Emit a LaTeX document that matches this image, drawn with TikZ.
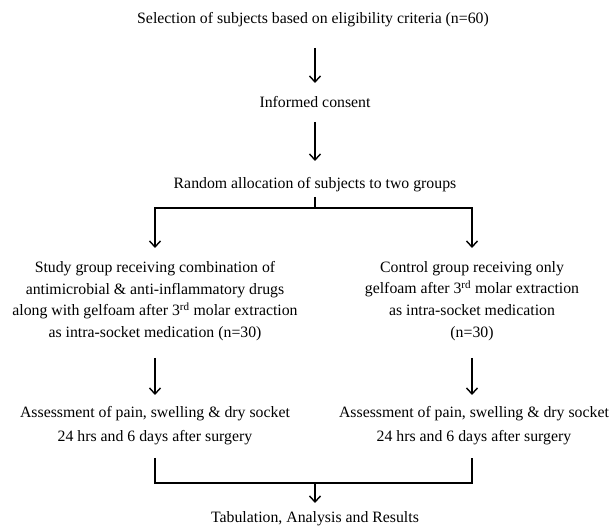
\documentclass[tikz,border=0pt]{standalone}
\usepackage{fontspec}
\setmainfont{Liberation Serif}
\usetikzlibrary{arrows.meta}
\begin{document}
\begin{tikzpicture}[x=1pt,y=-1pt,
  txt/.style={inner sep=0pt,outer sep=0pt,align=center,font=\fontsize{15.8pt}{21.6pt}\selectfont},
  txtwide/.style={txt,font=\fontsize{15.8pt}{24pt}\selectfont},
  arr/.style={line width=1.4pt,-{Straight Barb[length=6pt,width=11pt,line width=1.4pt]}},
  ln/.style={line width=1.4pt}]
\useasboundingbox (0,0) rectangle (614,529);
\node[txt] (sel) at (313,20) {Selection of subjects based on eligibility criteria (n=60)};
\node[txt] (inf) at (315,102) {Informed consent};
\node[txt] (ran) at (315,185) {Random allocation of subjects to two groups};
\node[txt] (study) at (155,301) {Study group receiving combination of\\antimicrobial \& anti-inflammatory drugs\\along with gelfoam after 3\textsuperscript{rd} molar extraction\\as intra-socket medication (n=30)};
\node[txt] (ctrl) at (472,301) {Control group receiving only\\gelfoam after 3\textsuperscript{rd} molar extraction\\as intra-socket medication\\(n=30)};
\node[txtwide] (assL) at (155,426) {Assessment of pain, swelling \& dry socket\\24 hrs and 6 days after surgery};
\node[txtwide] (assR) at (474,426) {Assessment of pain, swelling \& dry socket\\24 hrs and 6 days after surgery};
\node[txt] (tab) at (315,519) {Tabulation, Analysis and Results};
% top arrows
\draw[arr] ([yshift=-28pt]sel.center -| inf.center) -- ([yshift=19pt]inf.center);
\draw[arr] ([yshift=-20pt]inf.center) -- ([yshift=24pt]ran.center);
% split
\draw[ln] ([yshift=-12pt]ran.center) -- ([yshift=-23pt]ran.center) coordinate (bm);
\draw[arr] (bm) -| ([yshift=53pt]study.center);
\draw[arr] (bm) -| ([yshift=53pt]ctrl.center);
% middle arrows
\draw[arr] ([yshift=-57pt]study.center) -- ([yshift=31pt]assL.center);
\draw[arr] ([yshift=-57pt]ctrl.center) -- ([xshift=-2pt,yshift=31pt]assR.center);
% merge
\draw[ln] ([yshift=-32pt]assL.center) |- ([xshift=-2pt,yshift=-57pt]assR.center) -- ([xshift=-2pt,yshift=-32pt]assR.center);
\draw[arr] ([yshift=36pt]tab.center) -- ([yshift=16pt]tab.center);
\end{tikzpicture}
\end{document}
